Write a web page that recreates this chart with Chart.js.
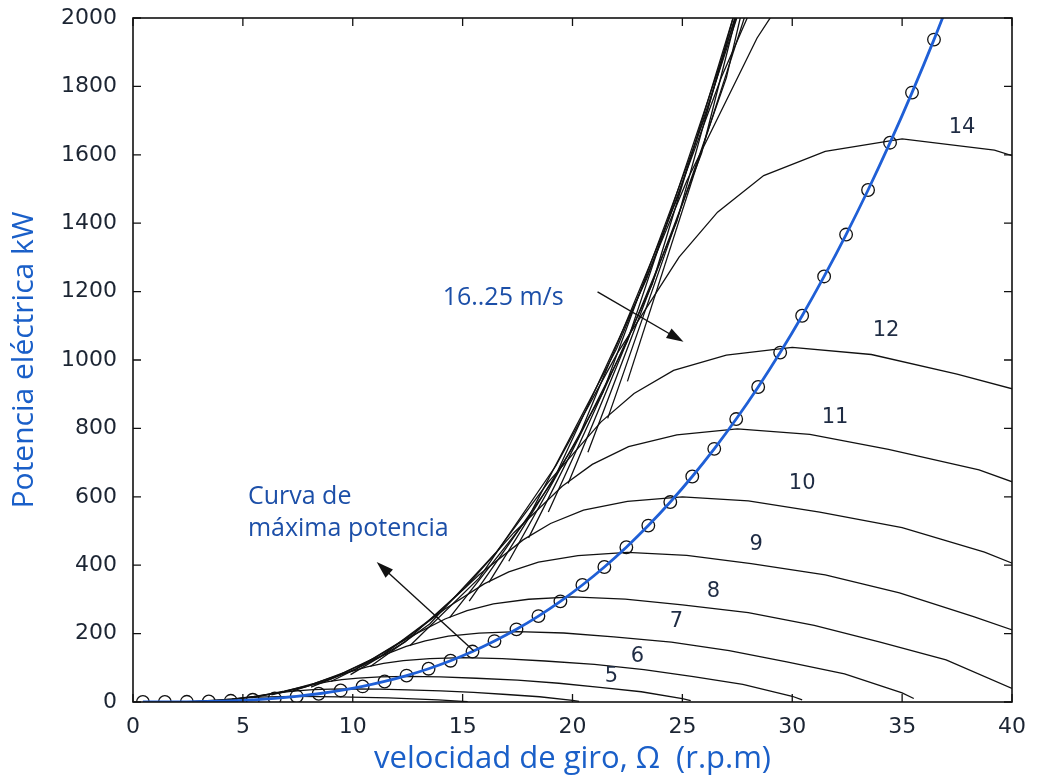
<!DOCTYPE html>
<html lang="es">
<head>
<meta charset="utf-8">
<title>Potencia eléctrica frente a velocidad de giro</title>
<script src="https://cdn.jsdelivr.net/npm/chart.js@4.4.1/dist/chart.umd.min.js"></script>
<style>
  html, body { margin: 0; padding: 0; background: #fff; }
  #contenedor { width: 1042px; height: 780px; }
</style>
</head>
<body>
<div id="contenedor"><canvas id="grafico" width="1042" height="780"></canvas></div>
<script>
// Curvas de potencia para cada velocidad de viento: pares [velocidad de giro rpm, potencia kW]
const curva3 = [[2.7, 1.6], [3.38, 3.6], [4.13, 6.8], [4.73, 10], [5.33, 12.8], [5.7, 14.1], [6.15, 15.1], [6.75, 15.8], [7.5, 16.2], [8.4, 15.9], [9.38, 15], [10.5, 13.8], [11.63, 11.8], [12.75, 9.2], [13.88, 6.5], [15, 2.1], [15.23, 0.8]];
const curva4 = [[3.6, 3.8], [4.5, 8.4], [5.5, 16.1], [6.3, 23.8], [7.1, 30.3], [7.6, 33.4], [8.2, 35.9], [9, 37.6], [10, 38.4], [11.2, 37.6], [12.5, 35.5], [14, 32.6], [15.5, 28], [17, 21.9], [18.5, 15.4], [20, 5], [20.3, 1.9]];
const curva5 = [[4.5, 7.5], [5.63, 16.5], [6.88, 31.5], [7.88, 46.5], [8.88, 59.3], [9.5, 65.3], [10.25, 70.1], [11.25, 73.4], [12.5, 75], [14, 73.5], [15.63, 69.4], [17.5, 63.8], [19.38, 54.8], [21.25, 42.8], [23.13, 30], [25, 9.8], [25.38, 3.8]];
const curva6 = [[5.4, 13], [6.75, 28.5], [8.25, 54.4], [9.45, 80.4], [10.65, 102.4], [11.4, 112.8], [12.3, 121.2], [13.5, 126.7], [15, 129.6], [16.8, 127], [18.75, 119.9], [21, 110.2], [23.25, 94.6], [25.5, 73.9], [27.75, 51.8], [30, 16.8], [30.45, 6.5]];
const curva7 = [[6.3, 20.6], [7.88, 45.3], [9.63, 86.4], [11.03, 127.6], [12.43, 162.6], [13.3, 179], [14.35, 192.4], [15.75, 201.3], [17.5, 205.8], [19.6, 201.7], [21.88, 190.4], [24.5, 174.9], [27.13, 150.2], [29.75, 117.3], [32.38, 82.3], [35, 26.8], [35.53, 10.3]];
const curva8 = [[7.2, 30.7], [9, 67.6], [11, 129], [12.6, 190.5], [14.2, 242.7], [15.2, 267.3], [16.4, 287.2], [18, 300.4], [20, 307.2], [22.4, 301.1], [25, 284.2], [28, 261.1], [31, 224.3], [34, 175.1], [37, 122.9], [40, 39.9], [40.6, 15.4]];
const curva9 = [[8.1, 43.7], [10.13, 96.2], [12.38, 183.7], [14.18, 271.2], [15.98, 345.5], [17.1, 380.5], [18.45, 409], [20.25, 427.8], [22.5, 437.4], [25.2, 428.7], [28.13, 404.6], [31.5, 371.8], [34.88, 319.3], [38.25, 249.3], [41.63, 175]];
const curva10 = [[9, 60], [11.25, 132], [13.75, 252], [15.75, 372], [17.75, 474], [19, 522], [20.5, 561], [22.5, 586.8], [25, 600], [28, 588], [31.25, 555], [35, 510], [38.75, 438], [42.5, 342]];
const curva11 = [[9.9, 79.9], [12.38, 175.7], [15.13, 335.4], [17.33, 495.1], [19.53, 630.9], [20.9, 694.8], [22.55, 746.7], [24.75, 781], [27.5, 798.6], [30.8, 782.6], [34.38, 738.7], [38.5, 678.8], [42.63, 583]];
const curva12 = [[10.8, 103.7], [13.5, 228.1], [16.5, 435.5], [18.9, 642.8], [21.3, 819.1], [22.8, 902], [24.6, 969.4], [27, 1014], [30, 1036.8], [33.6, 1016.1], [37.5, 959], [42, 881.3]];
const curva14 = [[12.6, 164.6], [15.75, 362.2], [19.25, 691.5], [22.05, 1020.8], [24.85, 1300.7], [26.6, 1432.4], [28.7, 1539.4], [31.5, 1610.2], [35, 1646.4], [39.2, 1613.5], [43.75, 1523]];

// Haz de curvas de 16 a 25 m/s (se salen por arriba del gráfico)
const curva16 = [[14.4, 245.8], [18, 540.7], [22, 1032.2], [25.2, 1523.7], [28.4, 1941.5], [30.4, 2138.1]];
const curva17 = [[15.3, 294.8], [19.13, 648.5], [23.38, 1238.1], [26.78, 1827.6], [30.18, 2328.8]];
const curva18 = [[16.2, 349.9], [20.25, 769.8], [24.75, 1469.7], [28.35, 2169.5]];
const curva19 = [[17.1, 411.5], [21.38, 905.4], [26.13, 1728.5], [29.93, 2551.5]];
const curva20 = [[18, 480], [22.5, 1056], [27.5, 2016]];
const curva21 = [[18.9, 555.7], [23.63, 1222.5], [28.88, 2333.8]];
const curva22 = [[19.8, 638.9], [24.75, 1405.5], [30.25, 2683.3]];
const curva23 = [[20.7, 730], [25.88, 1606], [31.63, 3066]];
const curva24 = [[21.6, 829.4], [27, 1824.8], [33, 3483.6]];
const curva25 = [[22.5, 937.5], [28.13, 2062.5]];

// Curva de máxima potencia (círculos)
const omegaMaxima = [0.45, 1.45, 2.45, 3.45, 4.45, 5.45, 6.45, 7.45, 8.45, 9.45, 10.45, 11.45, 12.45, 13.45, 14.45, 15.45, 16.45, 17.45, 18.45, 19.45, 20.45, 21.45, 22.45, 23.45, 24.45, 25.45, 26.45, 27.45, 28.45, 29.45, 30.45, 31.45, 32.45, 33.45, 34.45, 35.45, 36.45];
const potenciaMaxima = [0, 0.1, 0.6, 1.6, 3.5, 6.5, 10.7, 16.5, 24.1, 33.8, 45.6, 60, 77.2, 97.3, 120.7, 147.5, 178.1, 212.5, 251.2, 294.3, 342.1, 394.8, 452.6, 515.8, 584.7, 659.4, 740.2, 827.3, 921.1, 1021.7, 1129.4, 1244.3, 1366.8, 1497.1, 1635.4, 1781.9, 1936.8];
// tramo final de la línea azul, que sale por arriba
const prolongacionMaxima = [[37.45, 2101]];

const ticksX = [0, 5, 10, 15, 20, 25, 30, 35, 40];
const ticksY = [0, 200, 400, 600, 800, 1000, 1200, 1400, 1600, 1800, 2000];

// Etiquetas de velocidad de viento (m/s) junto a cada curva
const etiquetasViento = [
    { texto: '14', x: 37.73, y: 1681 },
    { texto: '12', x: 34.27, y: 1087 },
    { texto: '11', x: 31.95, y: 833 },
    { texto: '10', x: 30.45, y: 640 },
    { texto: '9', x: 28.36, y: 459 },
    { texto: '8', x: 26.41, y: 322 },
    { texto: '7', x: 24.73, y: 234 },
    { texto: '6', x: 22.95, y: 132 },
    { texto: '5', x: 21.77, y: 73 }
];

const textosAzules = [
    { texto: '16..25 m/s', x: 14.09, y: 1181 },
    { texto: 'Curva de', x: 5.23, y: 599 },
    { texto: 'máxima potencia', x: 5.23, y: 506 }
];

const flechas = [
    { desde: [21.14, 1199], hasta: [25.05, 1053] },
    { desde: [15.5, 150], hasta: [11.09, 409] }
];

const AZUL_TEXTO = '#1c4fa8';
const AZUL_LINEA = '#1f5fd6';
const NEGRO = '#111111';

function aPuntos(pares) {
    return pares.map(p => ({ x: p[0], y: p[1] }));
}

function curvaNegra(pares) {
    return {
        data: aPuntos(pares),
        showLine: true,
        borderColor: NEGRO,
        borderWidth: 1.3,
        pointRadius: 0,
        tension: 0,
        fill: false,
        order: 2
    };
}

function dibujarFlecha(ctx, x0, y0, x1, y1) {
    const ang = Math.atan2(y1 - y0, x1 - x0);
    const largo = 17, ancho = 5.5;
    ctx.beginPath();
    ctx.moveTo(x0, y0);
    ctx.lineTo(x1 - largo * 0.6 * Math.cos(ang), y1 - largo * 0.6 * Math.sin(ang));
    ctx.stroke();
    ctx.beginPath();
    ctx.moveTo(x1, y1);
    ctx.lineTo(x1 - largo * Math.cos(ang) + ancho * Math.sin(ang), y1 - largo * Math.sin(ang) - ancho * Math.cos(ang));
    ctx.lineTo(x1 - largo * Math.cos(ang) - ancho * Math.sin(ang), y1 - largo * Math.sin(ang) + ancho * Math.cos(ang));
    ctx.closePath();
    ctx.fill();
}

// Plugin: marco con marcas hacia dentro, textos y flechas
const marcoYAnotaciones = {
    id: 'marcoYAnotaciones',
    afterDatasetsDraw(chart) {
        const { ctx, chartArea: a, scales: { x, y } } = chart;
        ctx.save();

        ctx.strokeStyle = NEGRO;
        ctx.lineWidth = 1.6;
        ctx.strokeRect(a.left, a.top, a.right - a.left, a.bottom - a.top);

        ctx.lineWidth = 1.3;
        ctx.beginPath();
        ticksX.forEach(v => {
            const px = x.getPixelForValue(v);
            ctx.moveTo(px, a.bottom); ctx.lineTo(px, a.bottom - 8);
            ctx.moveTo(px, a.top); ctx.lineTo(px, a.top + 8);
        });
        ticksY.forEach(v => {
            const py = y.getPixelForValue(v);
            ctx.moveTo(a.left, py); ctx.lineTo(a.left + 8, py);
            ctx.moveTo(a.right, py); ctx.lineTo(a.right - 8, py);
        });
        ctx.stroke();

        ctx.fillStyle = '#1f2c44';
        ctx.font = '21px "DejaVu Sans"';
        ctx.textAlign = 'center';
        ctx.textBaseline = 'middle';
        etiquetasViento.forEach(e => {
            ctx.fillText(e.texto, x.getPixelForValue(e.x), y.getPixelForValue(e.y));
        });

        ctx.fillStyle = AZUL_TEXTO;
        ctx.font = '25px "Open Sans"';
        ctx.textAlign = 'left';
        textosAzules.forEach(t => {
            ctx.fillText(t.texto, x.getPixelForValue(t.x), y.getPixelForValue(t.y));
        });

        ctx.strokeStyle = NEGRO;
        ctx.fillStyle = NEGRO;
        ctx.lineWidth = 1.4;
        flechas.forEach(f => {
            dibujarFlecha(ctx,
                x.getPixelForValue(f.desde[0]), y.getPixelForValue(f.desde[1]),
                x.getPixelForValue(f.hasta[0]), y.getPixelForValue(f.hasta[1]));
        });

        ctx.restore();
    }
};

const curvasNegras = [curva3, curva4, curva5, curva6, curva7, curva8, curva9, curva10, curva11, curva12, curva14,
    curva16, curva17, curva18, curva19, curva20, curva21, curva22, curva23, curva24, curva25];

const puntosMaxima = omegaMaxima.map((w, i) => ({ x: w, y: potenciaMaxima[i] }));

const datasets = [
    {
        // línea azul de máxima potencia
        data: puntosMaxima.concat(aPuntos(prolongacionMaxima)),
        showLine: true,
        borderColor: AZUL_LINEA,
        borderWidth: 2.8,
        pointRadius: 0,
        cubicInterpolationMode: 'monotone',
        fill: false,
        order: 0
    },
    {
        data: puntosMaxima,
        showLine: false,
        pointStyle: 'circle',
        pointRadius: 6.3,
        pointBorderColor: NEGRO,
        pointBackgroundColor: 'rgba(0,0,0,0)',
        pointBorderWidth: 1.3,
        order: 1
    }
].concat(curvasNegras.map(curvaNegra));

new Chart(document.getElementById('grafico'), {
    type: 'scatter',
    data: { datasets },
    options: {
        responsive: false,
        animation: false,
        layout: { padding: { left: 0, right: 30, top: 18, bottom: 0 } },
        plugins: { legend: { display: false }, tooltip: { enabled: false } },
        scales: {
            x: {
                type: 'linear',
                min: 0,
                max: 40,
                afterFit: s => { s.height = 78; s.paddingLeft = 0; s.paddingRight = 0; },
                afterBuildTicks: s => { s.ticks = ticksX.map(v => ({ value: v })); },
                grid: { display: false, drawTicks: false },
                border: { display: false },
                ticks: { color: '#1c2533', font: { family: 'DejaVu Sans', size: 22 }, padding: 12, maxRotation: 0, callback: v => String(v) },
                title: {
                    display: true,
                    text: 'velocidad de giro, Ω  (r.p.m)',
                    color: '#1a5fc8',
                    font: { family: 'Open Sans', size: 31 },
                    padding: { top: 0, bottom: 2 }
                }
            },
            y: {
                type: 'linear',
                min: 0,
                max: 2000,
                afterFit: s => { s.width = 133; s.paddingTop = 0; s.paddingBottom = 0; },
                afterBuildTicks: s => { s.ticks = ticksY.map(v => ({ value: v })); },
                grid: { display: false, drawTicks: false },
                border: { display: false },
                ticks: { color: '#1c2533', font: { family: 'DejaVu Sans', size: 22 }, padding: 16, callback: v => String(v) },
                title: {
                    display: true,
                    text: 'Potencia eléctrica kW',
                    color: '#1a5fc8',
                    font: { family: 'Open Sans', size: 30 },
                    padding: { top: 6, bottom: 0 }
                }
            }
        }
    },
    plugins: [marcoYAnotaciones]
});
</script>
</body>
</html>
